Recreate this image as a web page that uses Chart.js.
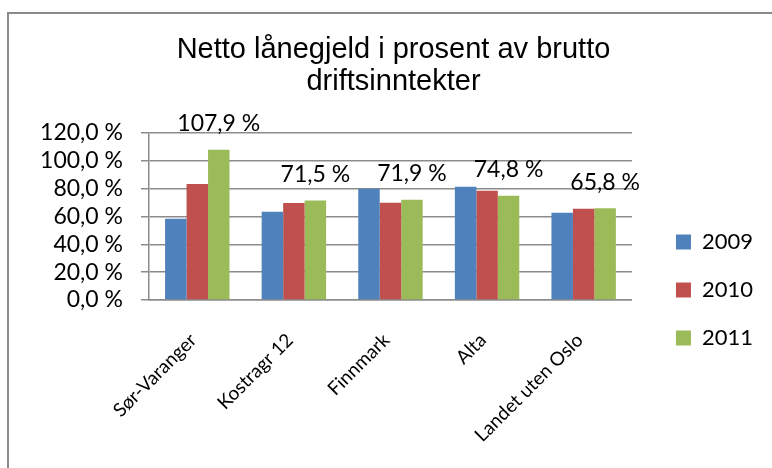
<!DOCTYPE html>
<html>
<head>
<meta charset="utf-8">
<script src="https://cdn.jsdelivr.net/npm/chart.js@4"></script>
<style>
  html, body { margin: 0; padding: 0; background: #fff; }
  #wrap { position: relative; width: 772px; height: 468px; }
  #frame { position: absolute; left: 7px; top: 12px; right: -10px; bottom: -10px;
           border-left: 2px solid #8a8a8a; border-top: 2px solid #8a8a8a; pointer-events: none; }
</style>
</head>
<body>
<div id="wrap">
  <canvas id="c" width="772" height="468"></canvas>
  <div id="frame"></div>
</div>
<script>
// data
const categories = ['Sør-Varanger', 'Kostragr 12', 'Finnmark', 'Alta', 'Landet uten Oslo'];
const years      = ['2009', '2010', '2011'];
const v2009      = [58.3, 63.3, 79.8, 81.3, 62.6];
const v2010      = [83.2, 69.6, 69.8, 78.4, 65.5];
const v2011      = [107.9, 71.5, 71.9, 74.8, 65.8];
const yTicks     = [0, 20, 40, 60, 80, 100, 120];

const COLORS = ['#4f81bd', '#c0504d', '#9bbb59'];
const GRID   = '#8c8c8c';
const LABEL_FONT = 'Lato, "Open Sans", sans-serif';

const pct = v => v.toFixed(1).replace('.', ',') + ' %';

// labels above the 2011 bars only
const valueLabels = {
  id: 'valueLabels',
  afterDatasetsDraw(chart) {
    const meta = chart.getDatasetMeta(2);
    const ctx = chart.ctx;
    ctx.save();
    ctx.font = '23px ' + LABEL_FONT;
    ctx.fillStyle = '#000';
    ctx.textAlign = 'center';
    ctx.textBaseline = 'middle';
    meta.data.forEach((bar, i) => {
      ctx.fillText(pct(v2011[i]), bar.x, bar.y - 26);
    });
    ctx.restore();
  }
};

// nudge the legend away from the plot, like the Excel original
const legendNudge = {
  id: 'legendNudge',
  afterLayout(chart) {
    const lg = chart.legend;
    lg.left += 18; lg.right += 18;
    lg.top += 56; lg.bottom += 56;
  }
};

new Chart(document.getElementById('c'), {
  type: 'bar',
  data: {
    labels: categories,
    datasets: [v2009, v2010, v2011].map((d, i) => ({
      label: years[i],
      data: d,
      backgroundColor: COLORS[i],
      borderWidth: 0,
      categoryPercentage: 0.667,
      barPercentage: 1.0,
    }))
  },
  options: {
    responsive: false,
    animation: false,
    layout: { padding: { left: 42, right: 27, top: 0, bottom: 0 } },
    plugins: {
      title: {
        display: true,
        text: ['Netto lånegjeld i prosent av brutto', 'driftsinntekter'],
        color: '#000',
        font: { family: '"Liberation Sans", Arial, sans-serif', size: 29, weight: 'normal', lineHeight: 1.1 },
        padding: { top: 34, bottom: 35 }
      },
      legend: {
        position: 'right',
        labels: {
          color: '#000',
          font: { family: LABEL_FONT, size: 22 },
          boxWidth: 15, boxHeight: 15,
          padding: 26
        }
      },
      tooltip: { enabled: false }
    },
    scales: {
      x: {
        grid: { display: false },
        border: { display: true, color: GRID, width: 1.5 },
        ticks: {
          color: '#000', font: { family: LABEL_FONT, size: 19 },
          autoSkip: false, minRotation: 45, maxRotation: 45, padding: 21, labelOffset: -4
        },
        afterFit: s => { s.height = 168; }
      },
      y: {
        min: 0, max: 120,
        afterBuildTicks: s => { s.ticks = yTicks.map(v => ({ value: v })); },
        grid: { color: GRID, lineWidth: 1.5, tickLength: 8 },
        border: { display: true, color: GRID, width: 1.5 },
        ticks: { color: '#000', font: { family: LABEL_FONT, size: 23 }, padding: 18, autoSkip: false, callback: v => pct(v) },
        afterFit: s => { s.width = 107; }
      }
    }
  },
  plugins: [valueLabels, legendNudge]
});
</script>
</body>
</html>
